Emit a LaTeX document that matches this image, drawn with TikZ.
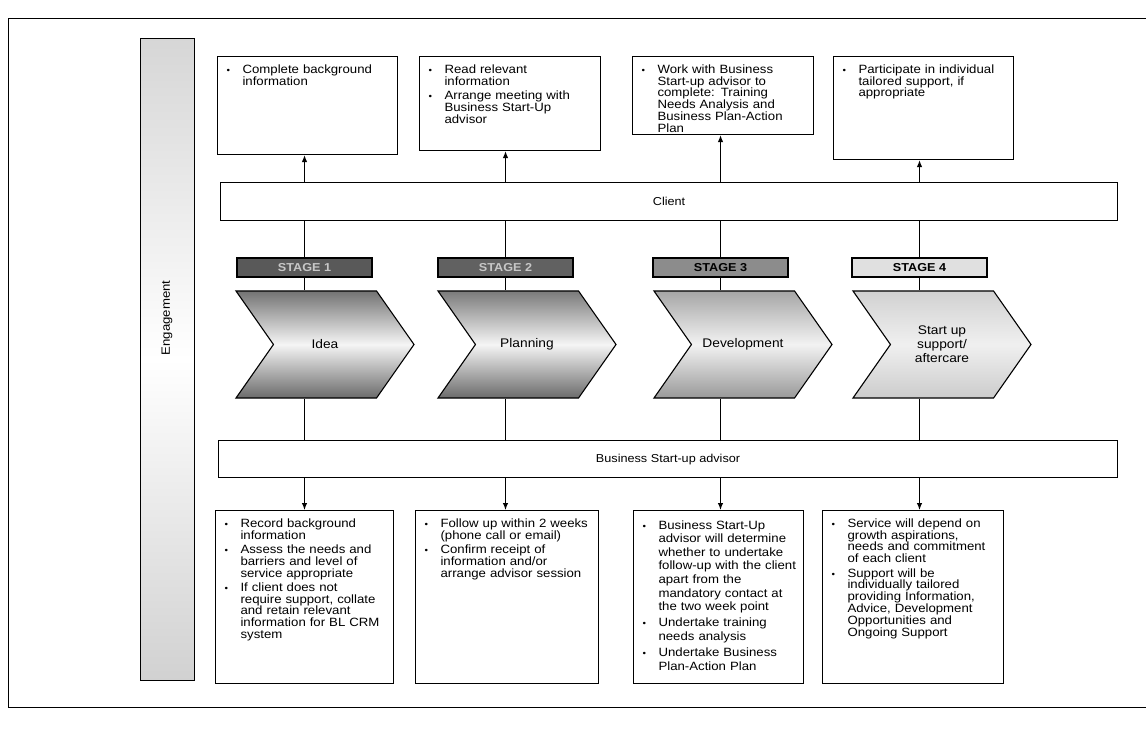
\documentclass[tikz,border=0pt]{standalone}
\usepackage{fontspec}
\setmainfont{Liberation Sans}[FakeStretch=1.1]
\usetikzlibrary{positioning}
\usetikzlibrary{shapes.symbols}
\usetikzlibrary{arrows.meta}

\newcommand{\bitem}[1]{\par\hangindent=19pt\hangafter=1\noindent\hbox to 19pt{\hspace{3pt}{\small\textbullet}\hfil}#1\par\vspace{2.5pt}}

\begin{document}
\begin{tikzpicture}[x=1pt,y=-1pt,line width=1.1pt,>={Latex[length=7pt,width=5.5pt]}] %% tikz
		\tikzstyle{actbox}=[draw,fill=white,rectangle,anchor=north west,inner sep=0pt]
		\tikzstyle{barbox}=[draw,fill=white,rectangle,anchor=north west,inner sep=0pt,font=\fontsize{11.5}{12}\selectfont]
		\tikzstyle{txt}=[inner sep=0pt,text width=170pt,align=left,font=\fontsize{12}{11.8}\selectfont]
		\tikzstyle{stagelab}=[draw,rectangle,minimum width=135pt,minimum height=19pt,inner sep=0pt,font=\bfseries\fontsize{11.5}{11.5}\selectfont]
		\tikzstyle{chev}=[draw,shape=signal,signal from=west,signal to=east,signal pointer angle=110,minimum width=178pt,minimum height=107pt,inner sep=0pt,align=center,font=\fontsize{12.5}{14}\selectfont]
		\useasboundingbox (0,0) rectangle (1146,735);
		%% frame
		\draw[line width=0.9pt] (1146,18) -- (8,18) -- (8,707) -- (1146,707);
		%% engagement bar
		\node[draw,line width=0.8pt,anchor=north west,minimum width=54pt,minimum height=642pt,top color=black!16,bottom color=black!18,middle color=white] (eng) at (140,38) {};
		\node[rotate=90,font=\fontsize{12}{12}\selectfont] (engt) at (167,318) {Engagement};
		%% client boxes
		\node[actbox,minimum width=180pt,minimum height=98pt] (c1) at (217,56) {};
		\node[actbox,minimum width=181pt,minimum height=94pt] (c2) at (419,56) {};
		\node[actbox,minimum width=181pt,minimum height=78pt] (c3) at (632,56) {};
		\node[actbox,minimum width=180pt,minimum height=103pt] (c4) at (833,56) {};
		\node[txt,below right=5pt and 6pt of c1.north west] (c1t) {\bitem{Complete background\newline information}};
		\node[txt,below right=5pt and 6pt of c2.north west] (c2t) {\bitem{Read relevant\newline information}\bitem{Arrange meeting with\newline Business Start-Up\newline advisor}};
		\node[txt,below right=5pt and 6pt of c3.north west] (c3t) {\bitem{Work with Business\newline Start-up advisor to\newline complete: Training\newline Needs Analysis and\newline Business Plan-Action\newline Plan}};
		\node[txt,below right=5pt and 6pt of c4.north west] (c4t) {\bitem{Participate in individual\newline tailored support, if\newline appropriate}};
		%% client bar
		\node[barbox,minimum width=897pt,minimum height=38pt] (client) at (220,182) {Client};
		%% stages
		\node[stagelab,fill=black!65,text=black!22] (s1) at (304.5,267.5) {STAGE 1};
		\node[stagelab,fill=black!62,text=black!22] (s2) at (505.5,267.5) {STAGE 2};
		\node[stagelab,fill=black!45] (s3) at (720.5,267.5) {STAGE 3};
		\node[stagelab,fill=black!12] (s4) at (919.5,267.5) {STAGE 4};
		%% chevrons
		\node[chev,top color=black!55,bottom color=black!58,middle color=black!4] (ch1) at (325,344.5) {Idea};
		\node[chev,top color=black!52,bottom color=black!58,middle color=black!4] (ch2) at (527,344.5) {Planning};
		\node[chev,top color=black!35,bottom color=black!40,middle color=black!5] (ch3) at (743,344.5) {Development};
		\node[chev,top color=black!18,bottom color=black!20,middle color=black!6] (ch4) at (942,344.5) {Start up\\support/\\aftercare};
		%% advisor bar
		\node[barbox,minimum width=899pt,minimum height=37pt] (adv) at (218,440) {Business Start-up advisor};
		%% advisor boxes
		\node[actbox,minimum width=178pt,minimum height=173pt] (b1) at (215,510) {};
		\node[actbox,minimum width=183pt,minimum height=173pt] (b2) at (415,510) {};
		\node[actbox,minimum width=170pt,minimum height=173pt] (b3) at (633,510) {};
		\node[actbox,minimum width=181pt,minimum height=173pt] (b4) at (822,510) {};
		\node[txt,below right=5pt and 6pt of b1.north west] (b1t) {\bitem{Record background\newline information}\bitem{Assess the needs and\newline barriers and level of\newline service appropriate}\bitem{If client does not\newline require support, collate\newline and retain relevant\newline information for BL CRM\newline system}};
		\node[txt,below right=5pt and 6pt of b2.north west] (b2t) {\bitem{Follow up within 2 weeks\newline (phone call or email)}\bitem{Confirm receipt of\newline information and/or\newline arrange advisor session}};
		\node[txt,below right=5pt and 6pt of b3.north west,font=\fontsize{12}{13.6}\selectfont] (b3t) {\bitem{Business Start-Up\newline advisor will determine\newline whether to undertake\newline follow-up with the client\newline apart from the\newline mandatory contact at\newline the two week point}\bitem{Undertake training\newline needs analysis}\bitem{Undertake Business\newline Plan-Action Plan}};
		\node[txt,below right=5pt and 6pt of b4.north west] (b4t) {\bitem{Service will depend on\newline growth aspirations,\newline needs and commitment\newline of each client}\bitem{Support will be\newline individually tailored\newline providing Information,\newline Advice, Development\newline Opportunities and\newline Ongoing Support}};
		%% connectors
		\foreach \i in {1,...,4} {
			\draw[->] (s\i.north |- client.north) -- (s\i.north |- c\i.south);
			\draw (s\i.north |- client.south) -- (s\i.north);
			\draw (s\i.south) -- (s\i.south |- ch\i.north);
			\draw (s\i.south |- ch\i.south) -- (s\i.south |- adv.north);
			\draw[->] (s\i.south |- adv.south) -- (s\i.south |- b\i.north);
		}
	\end{tikzpicture}
\end{document}
